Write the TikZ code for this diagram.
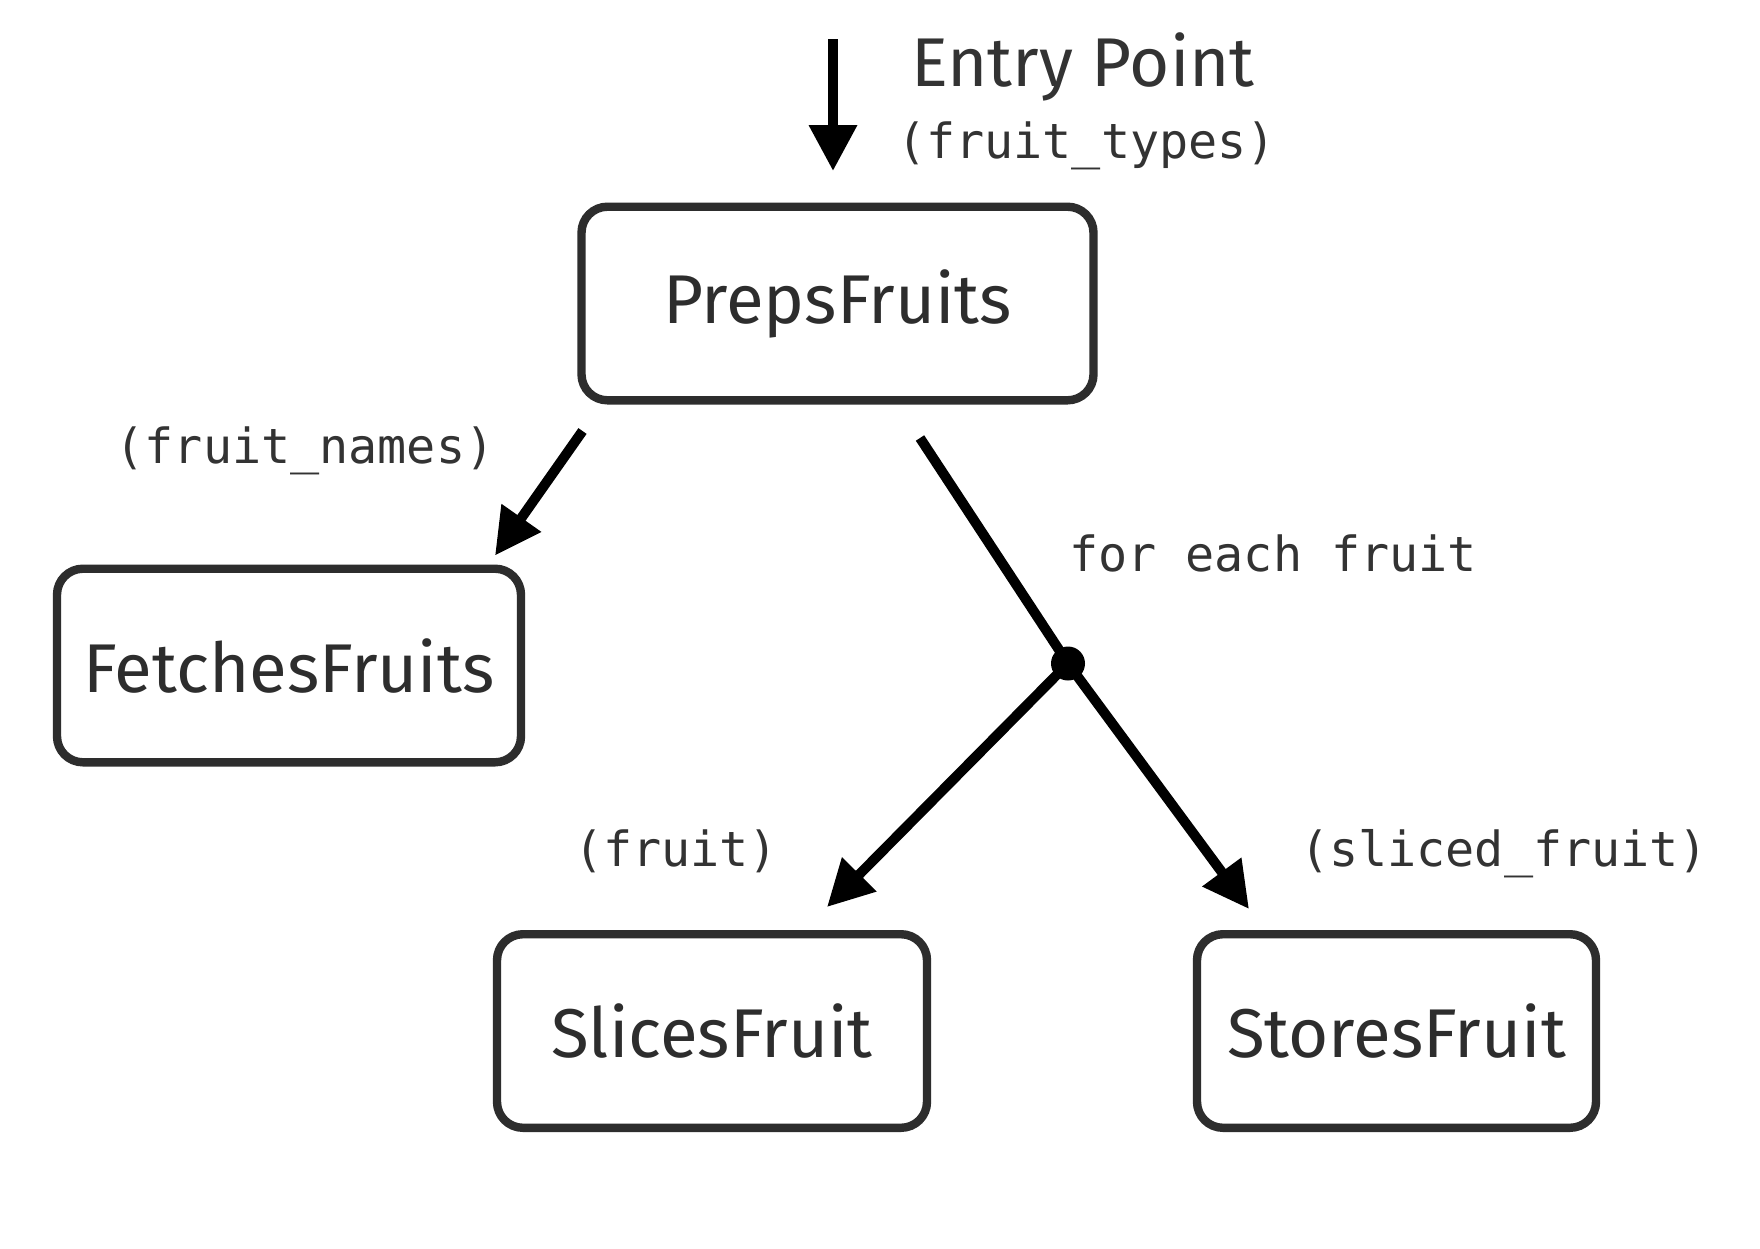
\documentclass[tikz,border=0pt]{standalone}
\usepackage{fontspec}
\setmainfont{Fira Sans}
\newfontfamily\codefont{DejaVu Sans Mono}
\usetikzlibrary{arrows.meta}
\definecolor{boxgray}{HTML}{2D2D2D}
\definecolor{txtgray}{HTML}{333333}
\begin{document}
\begin{tikzpicture}[x=0.5pt,y=-0.5pt,
  fnbox/.style={draw=boxgray, line width=4.2pt, rounded corners=13pt, fill=white,
    text=boxgray, font=\fontsize{34.5}{40}\selectfont, inner sep=0pt, minimum height=96.8pt},
  flow/.style={line width=5pt, black, -{Triangle[length=23pt,width=23pt]}},
  plainflow/.style={line width=5pt, black},
  lbl/.style={text=txtgray, font=\codefont\fontsize{24.2}{29}\selectfont, inner sep=0pt, anchor=base},
  title/.style={text=txtgray, font=\fontsize{34.5}{40}\selectfont, inner sep=0pt, anchor=base}
]
\useasboundingbox[fill=white] (0,0) rectangle (1760,1248);

% boxes
\node[fnbox, minimum width=256pt] (preps) at (837.5,303.5) {PrepsFruits};
\node[fnbox, minimum width=232pt] (fetches) at (289,665.5) {FetchesFruits};
\node[fnbox, minimum width=215pt] (slices) at (712,1031) {SlicesFruit};
\node[fnbox, minimum width=199.5pt] (stores) at (1396.5,1031) {StoresFruit};

% junction dot
\node[circle, fill=black, inner sep=0pt, minimum size=17pt] (dot) at (1068,663.5) {};

% texts
\node[title] (entry) at (1083,86) {Entry Point};
\node[lbl] (ltypes) at (1086.5,158) {(fruit\_types)};
\node[lbl] (lnames) at (305,463.5) {(fruit\_names)};
\node[lbl] (leach) at (1273,571) {for each fruit};
\node[lbl] (lfruit) at (676,866) {(fruit)};
\node[lbl] (lsliced) at (1504,866) {(sliced\_fruit)};

% connector end points
\coordinate (entryTop) at (833,39);
\coordinate (entryTip) at (833,171);
\coordinate (prepsL) at (582.5,431);
\coordinate (fetchTip) at (495,555.5);
\coordinate (prepsR) at (920,438);
\coordinate (sliceTip) at (827,907);
\coordinate (storeTip) at (1249,909);

% connectors
\draw[flow] (entryTop) -- (entryTip);
\draw[flow] (prepsL) -- (fetchTip);
\draw[plainflow] (prepsR) -- (dot.center);
\draw[flow] (dot.center) -- (sliceTip);
\draw[flow] (dot.center) -- (storeTip);
\end{tikzpicture}
\end{document}
